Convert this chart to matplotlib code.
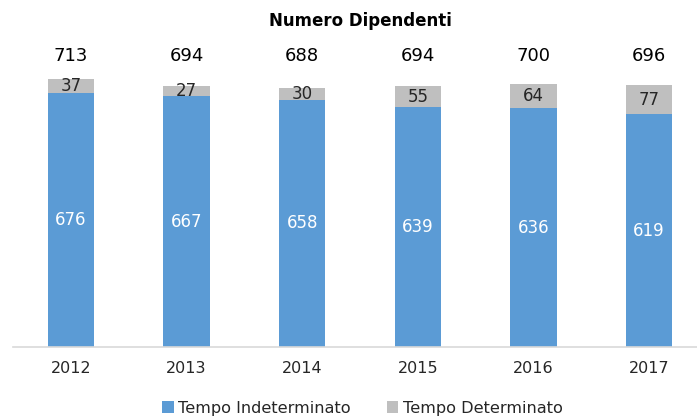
import matplotlib
matplotlib.use("Agg")
import matplotlib.pyplot as plt
import numpy as np

years = ["2012", "2013", "2014", "2015", "2016", "2017"]
indeterminato = [676, 667, 658, 639, 636, 619]
determinato = [37, 27, 30, 55, 64, 77]
totali = [713, 694, 688, 694, 700, 696]

blue = "#5B9BD5"
gray = "#BFBFBF"

plt.rcParams["font.family"] = ["DejaVu Sans"]

fig = plt.figure(figsize=(6.97, 4.17), dpi=100)
ax = fig.add_axes([13 / 697, 70 / 417, 684 / 697, 300.6 / 417])

x = np.arange(len(years))
w = 0.4
b1 = ax.bar(x, indeterminato, width=w, color=blue, label="Tempo Indeterminato")
b2 = ax.bar(x, determinato, width=w, bottom=indeterminato, color=gray,
            label="Tempo Determinato")

for xi, v in zip(x, indeterminato):
    ax.text(xi, v / 2, str(v), ha="center", va="center", color="white", fontsize=12)
for xi, base, v in zip(x, indeterminato, determinato):
    ax.text(xi, base + v / 2, str(v), ha="center", va="center", color="#262626",
            fontsize=12)

# totals sit on a common line above the bars
for xi, t in zip(x, totali):
    ax.text(xi, 0.968, str(t), transform=ax.get_xaxis_transform(),
            ha="center", va="center", color="#000000", fontsize=13)

ax.set_xlim(-0.5, 5.5 - 10 / 115.6)
ax.set_ylim(0, 800)
ax.set_xticks(x)
ax.set_xticklabels(years, fontsize=11.5, color="#262626")
ax.tick_params(axis="x", length=0, pad=10)
ax.set_yticks([])
for s in ["top", "right", "left"]:
    ax.spines[s].set_visible(False)
ax.spines["bottom"].set_color("#D9D9D9")
ax.spines["bottom"].set_linewidth(1.2)

fig.text(0.517, 1 - 21 / 417, "Numero Dipendenti", ha="center", va="center",
         fontsize=12, fontweight="bold", color="#000000")

fig.legend(handles=[b1, b2], loc="center", bbox_to_anchor=(0.52, 1 - 408 / 417),
           ncol=2, frameon=False, fontsize=11.6, handlelength=0.7,
           handleheight=0.7, handletextpad=0.3, columnspacing=2.2,
           labelcolor="#262626")

fig.savefig("out.png", dpi=100)
